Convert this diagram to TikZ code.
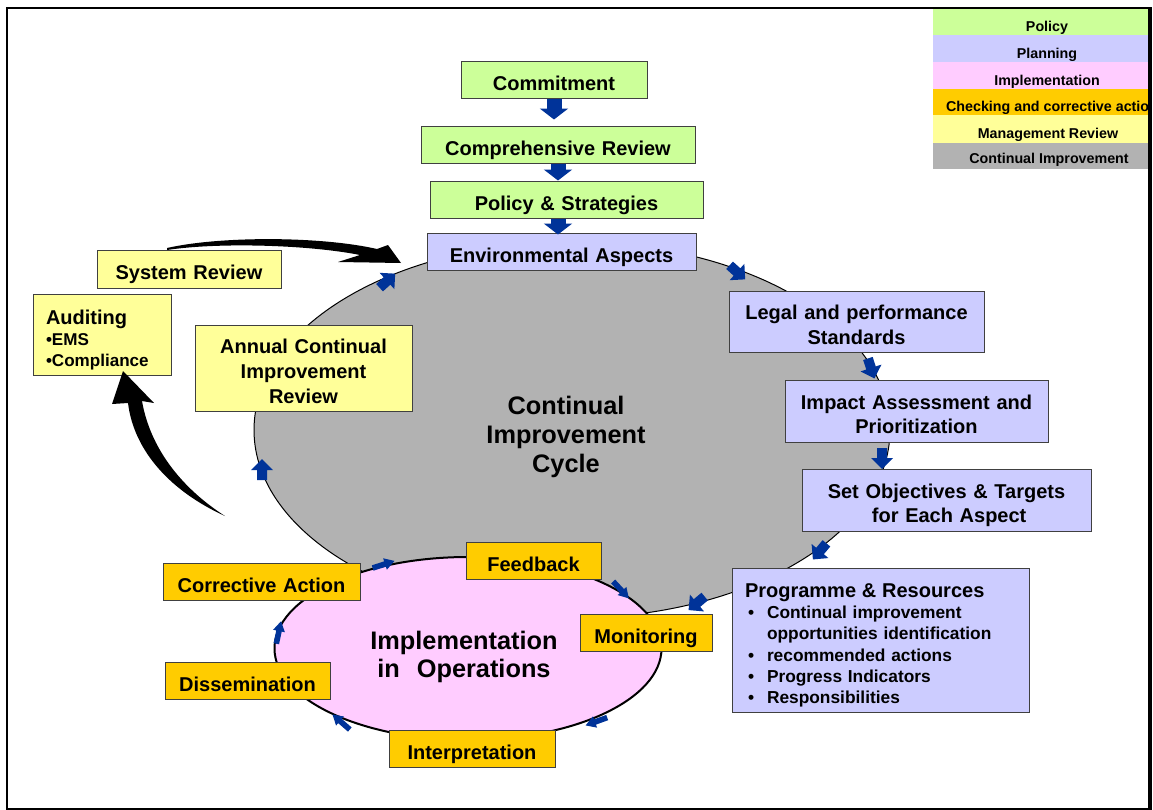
\documentclass[tikz,border=0pt]{standalone}
\usepackage{fontspec}
\setmainfont{Liberation Sans}
\usetikzlibrary{shapes.geometric,arrows.meta}

\definecolor{polgreen}{HTML}{CCFF99}
\definecolor{planblue}{HTML}{CCCCFF}
\definecolor{implpink}{HTML}{FFCCFF}
\definecolor{checkorange}{HTML}{FFCC00}
\definecolor{mgmtyellow}{HTML}{FFFF99}
\definecolor{cigray}{HTML}{B2B2B2}
\definecolor{arrowblue}{HTML}{003399}
\definecolor{boxline}{HTML}{404040}

% invisible struts fixing the height of the first line and the depth of the last
\newcommand\topstrut[1]{\rule{0pt}{#1}}
\newcommand\botstrut[1]{\rule[-#1]{0pt}{#1}}

% a box given by its corners (x1,y1)-(x2,y2) in pixel units
\newcommand\boxnode[7]{%
  \node[box,#1,minimum width={(#5-#3)*0.75pt},minimum height={(#6-#4)*0.75pt},
    text width=\dimexpr 0.75pt*(#5-#3)\relax]
    (#2) at ({(#3+#5)/2},{(#4+#6)/2}) {#7};}

% small block arrows sitting on the cycle outlines
\newcommand\graymark[3]{%
  \fill[arrowblue,shift={(#1,#2)},rotate=#3]
    (-10,-5) -- (0,-5) -- (0,-11) -- (11,0) -- (0,11) -- (0,5) -- (-10,5) -- cycle;}
\newcommand\pinkmark[3]{%
  \fill[arrowblue,shift={(#1,#2)},rotate=#3]
    (-13,-2.8) -- (0,-2.8) -- (0,-6) -- (10,0) -- (0,6) -- (0,2.8) -- (-13,2.8) -- cycle;}

\tikzset{
  box/.style={draw=boxline,line width=0.75pt,inner sep=0pt,align=center,
    font=\bfseries\fontsize{15}{18.5}\selectfont,
    execute at begin node={\topstrut{19.25pt}},
    execute at end node={\botstrut{3.5pt}}},
  policybox/.style={fill=polgreen},
  planbox/.style={fill=planblue},
  checkbox/.style={fill=checkorange},
  reviewbox/.style={fill=mgmtyellow},
  stemarrow/.style={draw=arrowblue,line width=11.25pt,
    -{Triangle[length=8.25pt,width=21pt]}},
  legendtxt/.style={anchor=base,inner sep=0pt,
    font=\bfseries\fontsize{10.7}{12}\selectfont},
}

\begin{document}
\begin{tikzpicture}[x=0.75pt,y=-0.75pt]
\useasboundingbox (0,0) rectangle (1153,810);

% the two cycles
\node[ellipse,draw=black,line width=0.75pt,fill=cigray,inner sep=0pt,
  minimum width=477pt,minimum height=282pt,align=center,text width=200pt,
  font=\bfseries\fontsize{19}{21.75}\selectfont,
  execute at begin node={\topstrut{23.5pt}},
  execute at end node={\botstrut{4pt}}]
  (cic) at (572,430) {\hspace*{-9pt}Continual\\\hspace*{-9pt}Improvement\\\hspace*{-9pt}Cycle};

\node[ellipse,draw=black,line width=1.5pt,fill=implpink,inner sep=0pt,
  minimum width=290.25pt,minimum height=137.25pt,align=center,text width=170pt,
  font=\bfseries\fontsize{19}{21}\selectfont,
  execute at begin node={\topstrut{26.3pt}},
  execute at end node={\botstrut{4.5pt}}]
  (impl) at (468,648.5) {\hspace*{-6pt}Implementation\\\hspace*{-6pt}in\ \ Operations};

% policy
\boxnode{policybox}{commit}{461}{61}{647}{98}{Commitment}
\boxnode{policybox}{comprev}{421}{126}{695}{163}{Comprehensive Review}
\boxnode{policybox}{policy}{430}{181}{703}{218}{Policy \& Strategies}

% planning
\boxnode{planbox}{envasp}{427}{233}{696}{270}{Environmental Aspects}
\boxnode{planbox}{legal}{729}{291}{984}{352}{Legal and performance\\Standards}
\boxnode{planbox}{impact}{785}{380}{1048}{442}{Impact Assessment and\\Prioritization}
\boxnode{planbox}{setobj}{802}{469}{1091}{531}{Set Objectives \& Targets\\\hspace*{4pt}for Each Aspect}
\node[box,planbox,minimum width=222.75pt,minimum height=108pt,
  text width=203.25pt,inner xsep=9.75pt,align=left,
  font=\bfseries\fontsize{13}{15.9}\selectfont] (prog) at (880.5,640)
  {{\fontsize{15}{15.9}\selectfont Programme \& Resources}\\
   \hspace*{2.25pt}\makebox[14.25pt][l]{•}Continual improvement\\
   \hspace*{16.5pt}opportunities identification\\
   \hspace*{2.25pt}\makebox[14.25pt][l]{•}recommended actions\\
   \hspace*{2.25pt}\makebox[14.25pt][l]{•}Progress Indicators\\
   \hspace*{2.25pt}\makebox[14.25pt][l]{•}Responsibilities};

% checking and corrective action
\boxnode{checkbox}{monitor}{580}{614}{712}{651}{Monitoring}
\boxnode{checkbox}{feedback}{466}{542}{601}{579}{Feedback}
\boxnode{checkbox}{corrective}{163}{563}{360}{600}{Corrective Action}
\boxnode{checkbox}{dissem}{165}{662}{330}{699}{Dissemination}
\boxnode{checkbox}{interp}{389}{730}{555}{767}{Interpretation}

% management review
\boxnode{reviewbox}{sysrev}{97}{250}{281}{288}{System Review}
\boxnode{reviewbox}{annual}{195}{325}{412}{411}{Annual Continual\\Improvement\\Review}
\node[box,reviewbox,minimum width=103.5pt,minimum height=60.75pt,
  text width=84pt,inner xsep=9.75pt,align=left,
  font=\bfseries\fontsize{12.8}{15.75}\selectfont] (audit) at (102,334.5)
  {{\fontsize{15}{15.75}\selectfont Auditing}\\•EMS\\•Compliance};

% stepwise arrows down the policy column
\draw[stemarrow,shorten >=4.5pt] (commit.south) -- (commit.south |- comprev.north);
\draw[stemarrow] (comprev.south) -- (policy.north -| comprev.south);
\draw[stemarrow,shorten >=-1.5pt] (policy.south -| comprev.south) -- (envasp.north -| comprev.south);

% review loop arrows
\fill (167,248) .. controls (220,236) and (320,236) .. (377,249)
  -- (388,245) -- (401,263) -- (338,262) -- (360,255)
  .. controls (310,245) and (220,242) .. (167,250) -- cycle;
\fill (123,371) -- (154,403) -- (142,401)
  .. controls (150,447) and (180,487) .. (225,516)
  .. controls (172,492) and (134,452) .. (128,403) -- (112,404) -- cycle;

% direction marks on the improvement cycle
\graymark{737}{272}{-42}
\graymark{871}{368}{-72}
\graymark{882}{458}{-90}
\graymark{820}{551}{-130}
\graymark{697}{603}{-140}
\graymark{262}{470}{90}
\graymark{387}{281}{42}

% direction marks on the implementation cycle
\pinkmark{622}{591}{-47}
\pinkmark{595}{722}{-160}
\pinkmark{340}{721}{139}
\pinkmark{279}{631}{78}
\pinkmark{385}{564}{18}

% legend
\begin{scope}
  \clip (933,8) rectangle (1148,169);
  \fill[polgreen]    (933,8)   rectangle (1170,35);
  \fill[planblue]    (933,35)  rectangle (1170,62);
  \fill[implpink]    (933,62)  rectangle (1170,88.5);
  \fill[checkorange] (933,88.5) rectangle (1170,115);
  \fill[mgmtyellow]  (933,115) rectangle (1170,142.5);
  \fill[cigray]      (933,142.5) rectangle (1170,169);
  \node[legendtxt] (lgpol) at (1047,31.3) {Policy};
  \node[legendtxt] (lgplan) at (1047,58.3) {Planning};
  \node[legendtxt] (lgimpl) at (1047,85) {Implementation};
  \node[legendtxt] (lgchk) at (1052,111.7) {Checking and corrective action};
  \node[legendtxt] (lgmgmt) at (1048,138.3) {Management Review};
  \node[legendtxt] (lgci) at (1049,163.3) {Continual Improvement};
\end{scope}

% frame
\draw[line width=1.5pt] (1150,8) -- (7,8) -- (7,809) -- (1150,809);
\draw[line width=3pt] (1150,7) -- (1150,810);
\end{tikzpicture}
\end{document}
